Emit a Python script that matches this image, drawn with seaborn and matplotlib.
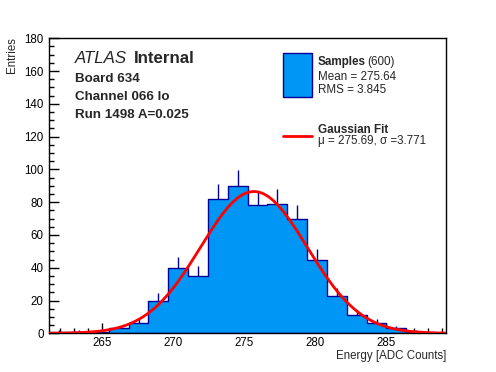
import numpy as np
import pandas as pd
import matplotlib
matplotlib.use("Agg")
import matplotlib.pyplot as plt
from matplotlib.patches import Rectangle
from matplotlib.lines import Line2D
from matplotlib.ticker import MultipleLocator
import seaborn as sns

# histogram: 20 bins of 1.4 ADC counts
bin_edges = [261.25 + 1.4 * k for k in range(21)]
counts = [1, 1, 1, 3, 6, 20, 40, 35, 82, 90, 78, 79, 70, 45, 23, 11, 6, 3, 1, 0]

# gaussian fit parameters
fit_mu = 275.69
fit_sigma = 3.771
fit_amp = 86.5

x_range = (261.25, 289.25)
y_range = (0, 180)

W, H = 496, 372
sns.set_style("ticks")
plt.rcParams["font.family"] = ["Liberation Sans", "DejaVu Sans"]
plt.rcParams["mathtext.fontset"] = "dejavusans"

fig = plt.figure(figsize=(W / 100, H / 100), dpi=100)
ax = fig.add_axes([49.3 / W, 1 - 333.3 / H, (446 - 49.3) / W, (333.3 - 38.3) / H])


def fx(px):
    return px / W


def fy(py):
    return 1 - py / H


edges = np.array(bin_edges)
centers = (edges[:-1] + edges[1:]) / 2
n = np.array(counts, dtype=float)
hist = pd.DataFrame({"energy": centers, "entries": n})

fill_col = "#0096f5"
edge_col = "#000099"

sns.histplot(data=hist, x="energy", weights="entries", bins=list(bin_edges),
             element="step", fill=True, color=fill_col, edgecolor=edge_col,
             linewidth=1.0, alpha=1, ax=ax)

# upper error bars (sqrt N)
ax.vlines(centers, n, n + np.sqrt(n), color=edge_col, lw=1.0, zorder=3)

# gaussian fit curve
xf = np.linspace(x_range[0], x_range[1], 600)
yf = fit_amp * np.exp(-0.5 * ((xf - fit_mu) / fit_sigma) ** 2)
sns.lineplot(x=xf, y=yf, color="#ff0000", lw=2, ax=ax, zorder=4)

ax.set_xlim(*x_range)
ax.set_ylim(*y_range)
ax.xaxis.set_major_locator(MultipleLocator(5))
ax.xaxis.set_minor_locator(MultipleLocator(1))
ax.yaxis.set_major_locator(MultipleLocator(20))
ax.yaxis.set_minor_locator(MultipleLocator(5))
ax.tick_params(which="both", direction="in", top=False, right=False,
               width=1, color="black", labelsize=8.3, labelcolor="black")
ax.tick_params(which="major", length=7.2)
ax.tick_params(which="minor", length=3.6)
ax.tick_params(axis="x", which="major", pad=2.5)
ax.tick_params(axis="y", which="major", pad=4)
ax.set_xlabel("")
ax.set_ylabel("")
for s in ax.spines.values():
    s.set_visible(True)
    s.set_linewidth(1)
    s.set_color("black")

# axis titles
fig.text(fx(12.3), fy(37), "Entries", rotation=90, ha="center", va="top", fontsize=8.3)
fig.text(fx(446), fy(359.5), "Energy [ADC Counts]", ha="right", va="baseline", fontsize=8.3)

# ATLAS label block
fig.text(fx(75), fy(63.3), "ATLAS", style="italic", fontsize=12.2, va="baseline")
fig.text(fx(134), fy(63.3), "Internal", weight="bold", fontsize=12.2, va="baseline")
fig.text(fx(75), fy(81.5), "Board 634", weight="bold", fontsize=9.6, va="baseline")
fig.text(fx(75), fy(100.5), "Channel 066 lo", weight="bold", fontsize=9.6, va="baseline")
fig.text(fx(75), fy(118.3), "Run 1498 A=0.025", weight="bold", fontsize=9.6, va="baseline")

# legend
fig.add_artist(Rectangle((fx(283.3), fy(96.7)), fx(311.7) - fx(283.3), fy(53.3) - fy(96.7),
                         transform=fig.transFigure, facecolor=fill_col, edgecolor=edge_col, lw=1))
fig.text(fx(317.7), fy(65), "Samples", weight="bold", fontsize=8.4, va="baseline")
fig.text(fx(367.7), fy(65), "(600)", fontsize=8.4, va="baseline")
fig.text(fx(317.7), fy(80), "Mean = 275.64", fontsize=8.4, va="baseline")
fig.text(fx(317.7), fy(93.3), "RMS = 3.845", fontsize=8.4, va="baseline")

fig.add_artist(Line2D([fx(283.3), fx(311.7)], [fy(136), fy(136)],
                      transform=fig.transFigure, color="#ff0000", lw=2))
fig.text(fx(317.7), fy(132.7), "Gaussian Fit", weight="bold", fontsize=8.4, va="baseline")
fig.text(fx(317.7), fy(144), "\u03bc = 275.69, \u03c3 =3.771", fontsize=8.4, va="baseline")

fig.savefig("out.png", dpi=100)
